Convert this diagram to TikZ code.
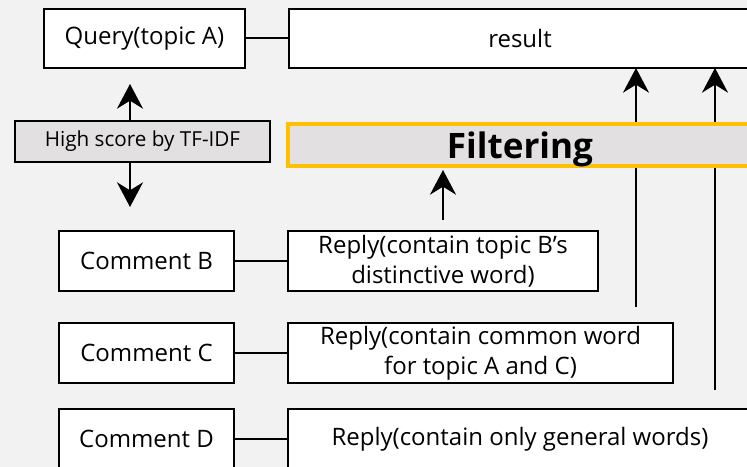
\documentclass[tikz,border=0pt]{standalone}
\usepackage{fontspec}
\setmainfont{Open Sans}
\usetikzlibrary{arrows.meta}
\definecolor{bg}{HTML}{F2F2F2}
\definecolor{panel}{HTML}{E2E0E1}
\definecolor{amber}{HTML}{FFC000}
\begin{document}
\begin{tikzpicture}[x=0.75pt,y=-0.75pt,
  box/.style n args={2}{draw=black,line width=1.5pt,fill=white,inner sep=0pt,outer sep=0pt,
    minimum width=#1*0.75pt,minimum height=#2*0.75pt,align=center,
    font=\fontsize{18}{22.5}\selectfont},
  link/.style={line width=1.5pt},
  arr/.style={line width=1.5pt,-{Stealth[length=18.5pt,width=19.5pt,inset=6pt]}}]
\useasboundingbox (0,0) rectangle (747,467);
\fill[bg] (0,0) rectangle (747,467);
\begin{scope}
\clip (0,0) rectangle (747,467);
% top row
\node[box={201}{59}] (query) at (144.5,38.5) {Query(topic A)};
\node[box={462}{59}] (result) at (520,38.5) {result};
\draw[link] (query.east) -- (result.west);

% score box with arrows to query and comments
\node[box={255}{41},fill=panel,font=\fontsize{15.5}{20}\selectfont] (tfidf) at (142.5,141.5) {High score by TF-IDF};
\coordinate (upTip) at (130,84);
\coordinate (downTip) at (130,207);
\draw[arr] (tfidf.north -| upTip) -- (upTip);
\draw[arr] (tfidf.south -| downTip) -- (downTip);

% comments and replies
\node[box={175}{60}] (comB) at (146.5,261) {Comment B};
\node[box={310}{60}] (repB) at (443,261) {Reply(contain topic B’s\\distinctive word)};
\node[box={175}{60}] (comC) at (146.5,353) {Comment C};
\node[box={385}{60}] (repC) at (480.5,353) {Reply(contain common word\\for topic A and C)};
\node[box={175}{60}] (comD) at (146.5,439) {Comment D};
\node[box={464}{60}] (repD) at (520,439) {Reply(contain only general words)};
\draw[link] (comB.east) -- (repB.west);
\draw[link] (comC.east) -- (repC.west);
\draw[link] (comD.east) -- (repD.west);

% replies passing straight to the result
\coordinate (cStart) at (636,307);
\coordinate (dStart) at (715,390);
\draw[arr] (cStart) -- (cStart |- result.south);
\draw[arr] (dStart) -- (dStart |- result.south);

% filtering stage
\node[box={464}{42},draw=amber,line width=2.5pt,fill=panel] (filter) at (520,145) {};
\node[font=\fontsize{26.3}{30}\bfseries,anchor=base] at (520,159) {Filtering};
\coordinate (fStart) at (443,220);
\coordinate (fTip) at (443,170);
\draw[arr] (fStart) -- (fTip);
\end{scope}
\end{tikzpicture}
\end{document}
